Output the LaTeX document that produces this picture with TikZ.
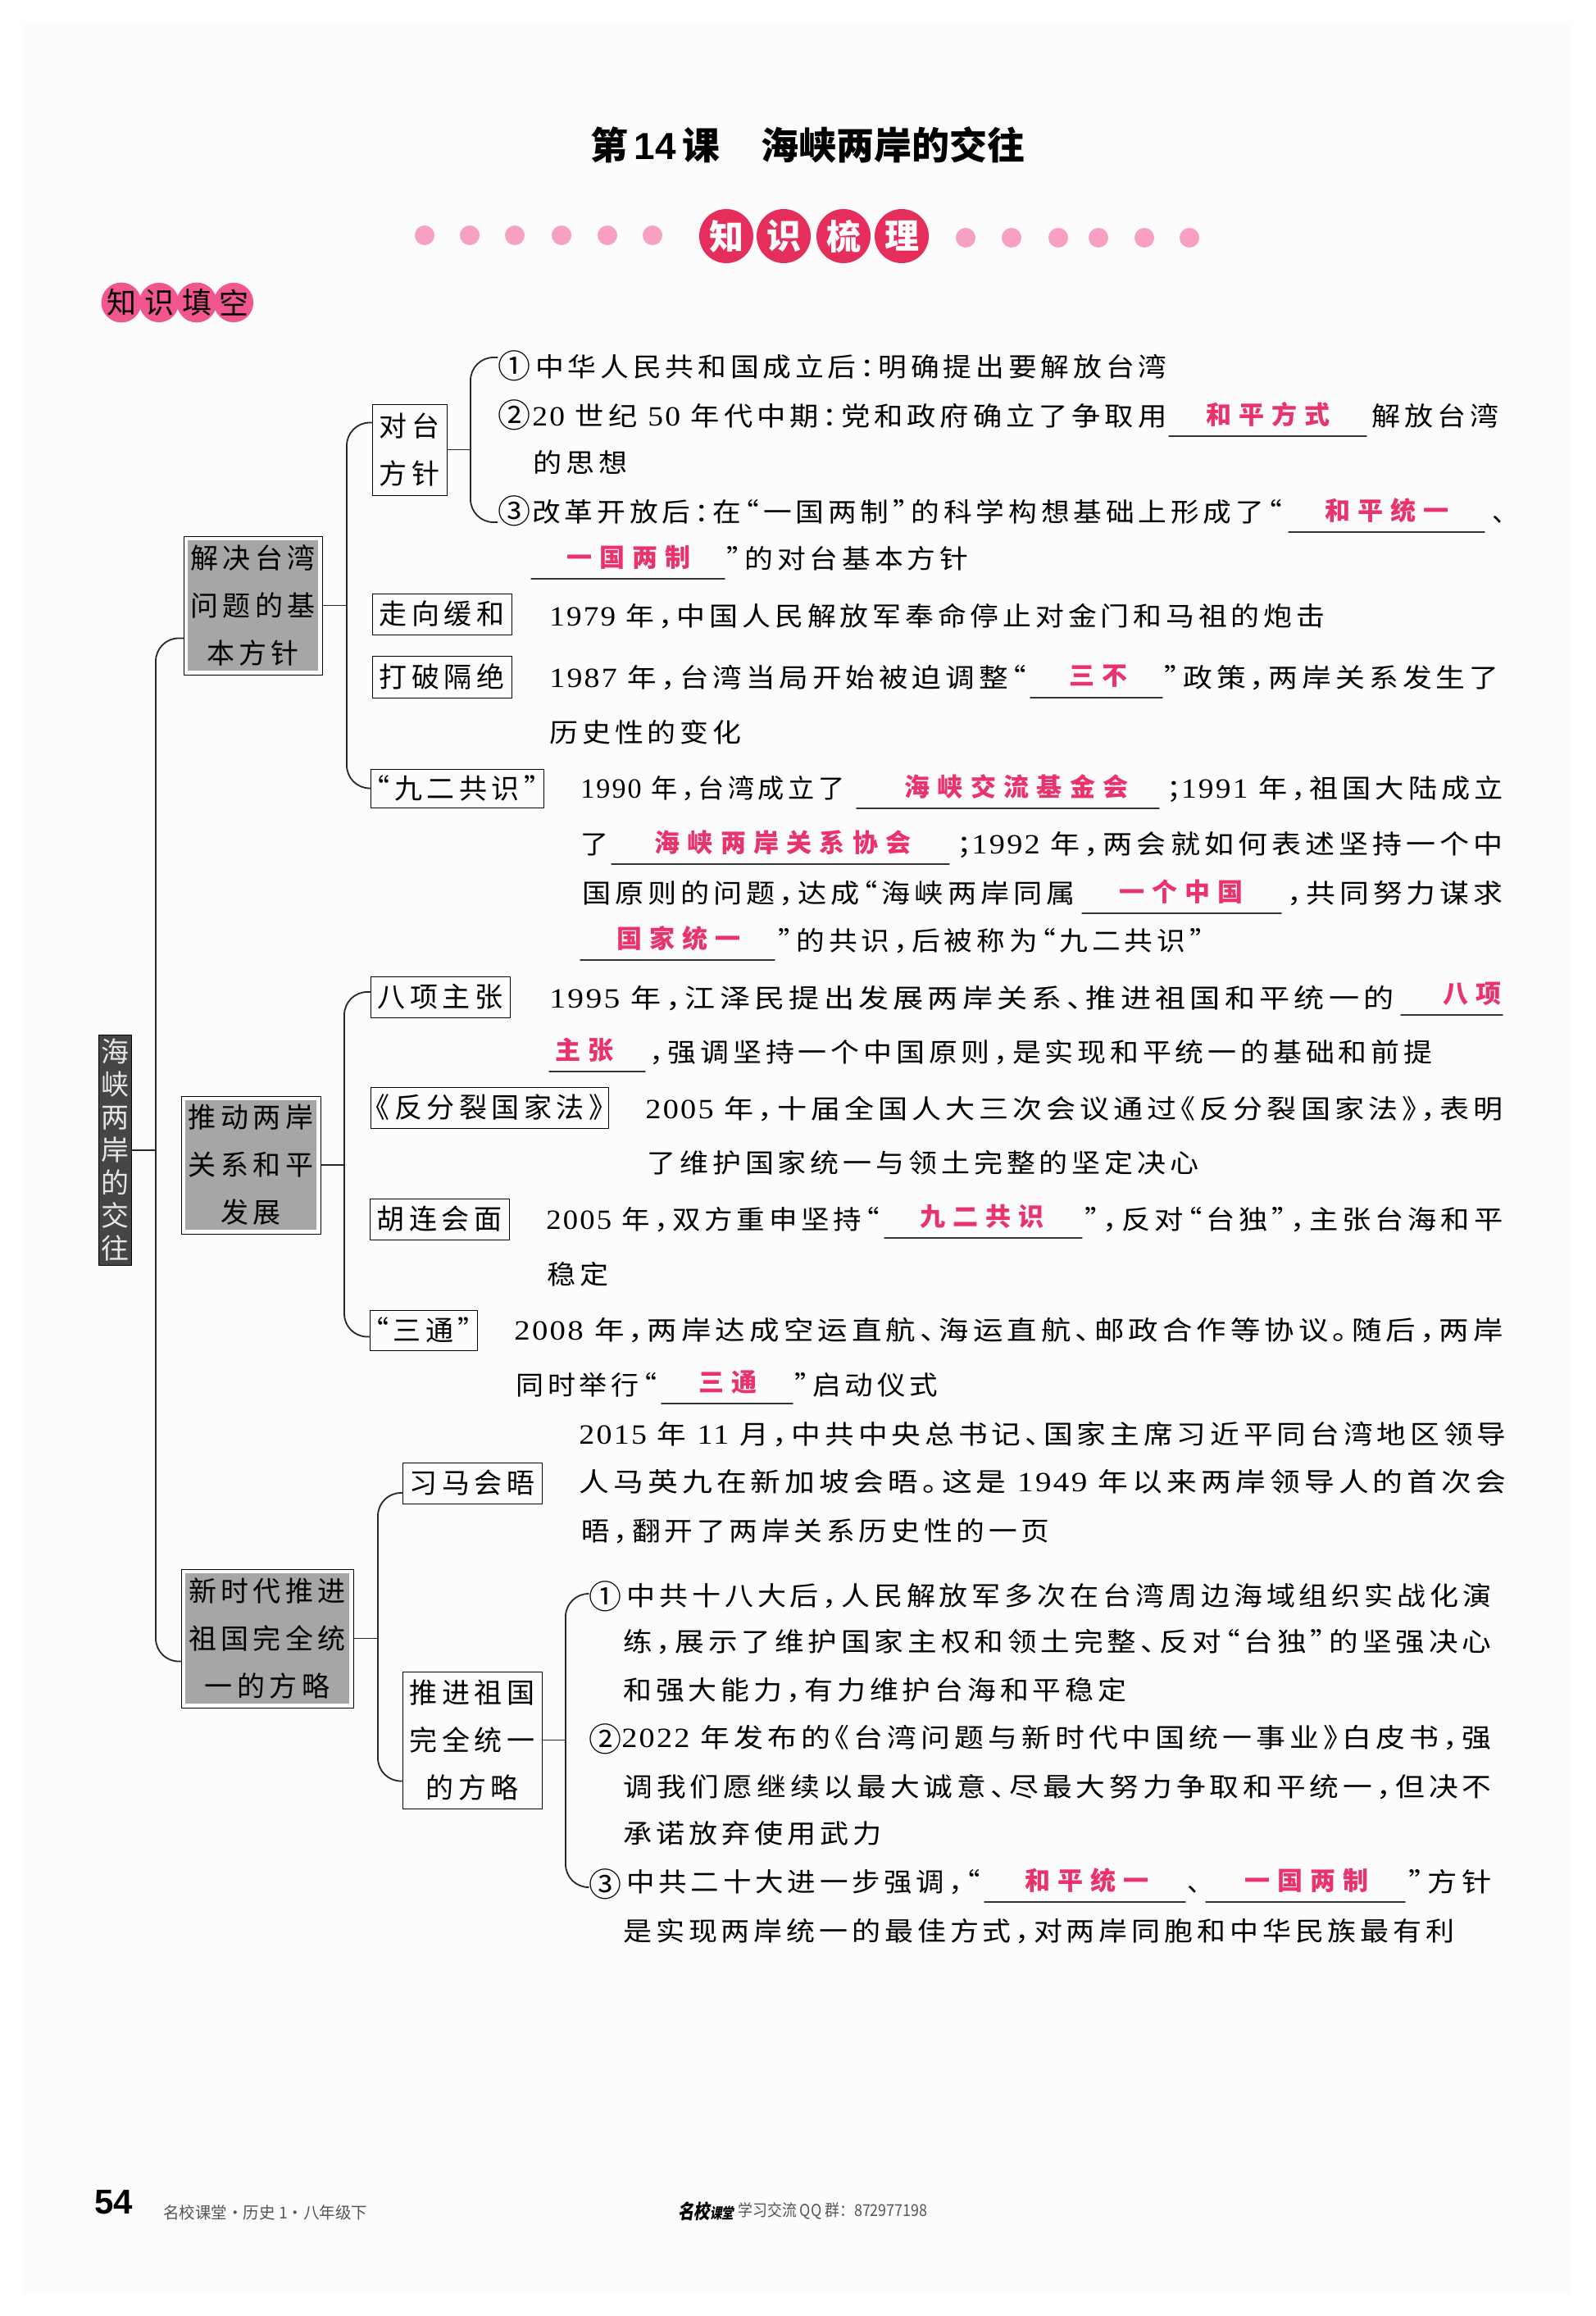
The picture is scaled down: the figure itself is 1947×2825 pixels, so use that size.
\documentclass[tikz,border=0pt]{standalone}
\usepackage{fontspec}
\setmainfont{Noto Sans CJK SC}
\newfontfamily\cjk[LetterSpace=14,RawFeature=+halt]{Noto Sans CJK SC}
\newfontfamily\tagcjk[LetterSpace=16,RawFeature=+halt]{Noto Sans CJK SC}
\newfontfamily\pinkcjk[LetterSpace=30]{Noto Sans CJK SC}
\newfontfamily\logocjk[FakeSlant=0.2]{Noto Sans CJK SC}
\newfontfamily\digitfont[LetterSpace=6]{Liberation Serif}
\newfontfamily\footfont{Liberation Sans}
\newcommand{\yr}[1]{{\digitfont\fontsize{17}{17}\selectfont #1}}
\newcommand{\seg}[5]{\node[bodytxt] (#1) at (#2,#4) {\resizebox{\dimexpr(#3pt-#2pt)/2\relax}{\height}{#5}};}
\newcommand{\blankfill}[6]{\draw[blankrule] (#2,#4+26) -- (#3,#4+26); \node[pinktxt] (#1) at (#5,#4) {#6};}
\definecolor{headred}{HTML}{E62E5C}
\definecolor{dotpink}{HTML}{F7A0C4}
\definecolor{subpink}{HTML}{F1568E}
\definecolor{inkpink}{HTML}{E8336D}
\definecolor{hubgray}{HTML}{A6A6A6}
\definecolor{rootgray}{HTML}{454545}
\definecolor{pagetint}{HTML}{FCFCFC}
\definecolor{footgray}{HTML}{555555}
\tikzset{
	bodytxt/.style={anchor=west, inner sep=0pt, text height=14.5pt, text depth=1.5pt, font=\fontsize{16}{16}\cjk},
	pinktxt/.style={inner sep=0pt, text=inkpink, font=\fontsize{15.5}{15.5}\pinkcjk\bfseries},
	blankrule/.style={line width=0.7pt, color=black!80},
	bus/.style={line width=0.9pt, color=black!85, rounded corners=14pt},
	tagbox/.style={draw, line width=0.45pt, inner sep=0pt, align=center, font=\fontsize{17}{29}\tagcjk},
	hubbox/.style={tagbox, path picture={\fill[hubgray] ([shift={(2.5pt,2.5pt)}]path picture bounding box.south west) rectangle ([shift={(-2.5pt,-2.5pt)}]path picture bounding box.north east);}},
	circnum/.style={inner sep=0pt, font=\fontsize{20}{20}\selectfont},
	pinkdot/.style={circle, fill=dotpink, inner sep=0pt, minimum size=12pt},
	headcirc/.style={circle, fill=headred, text=white, inner sep=0pt, minimum size=33pt, font=\fontsize{21}{21}\selectfont\bfseries},
	subcirc/.style={circle, fill=subpink, inner sep=0pt, minimum size=23pt, font=\fontsize{18}{18}\selectfont},
	titletxt/.style={inner sep=0pt, anchor=west, font=\fontsize{23}{23}\selectfont\bfseries}
}
\begin{document}
\begin{tikzpicture}[x=0.5pt, y=-0.5pt, line join=round, line cap=round]
	\useasboundingbox (0,0) rectangle (1947,2825);
	\fill[white] (0,0) rectangle (1947,2825);
	\fill[pagetint] (28,28) rectangle (1916,2798);

	\node[titletxt] (titlea) at (720,177) {\resizebox{79pt}{\height}{第\,{\footfont 14}\,课}};
	\node[titletxt] (titleb) at (928,177) {\resizebox{161pt}{\height}{海峡两岸的交往}};
	\foreach \x [count=\i] in {518,573,628,685,741,796} \node[pinkdot] (dl\i) at (\x,287) {};
	\foreach \x [count=\i] in {1178,1234,1291,1340,1396,1451} \node[pinkdot] (dr\i) at (\x,290) {};
	\node[headcirc] (hzhi) at (886,288) {知};
	\node[headcirc] (hshi) at (956,288) {识};
	\node[headcirc] (hshu) at (1029,288) {梳};
	\node[headcirc] (hli) at (1100,288) {理};
	\node[subcirc] (szhi) at (148,369) {知};
	\node[subcirc] (sshi) at (194,369) {识};
	\node[subcirc] (stian) at (240,369) {填};
	\node[subcirc] (skong) at (285,369) {空};

	\node[tagbox, minimum width=20pt, minimum height=140.5pt, fill=rootgray, text=white!90!black, font=\fontsize{17}{20}\selectfont] (root) at (140,1403) {海\\峡\\两\\岸\\的\\交\\往};
	\node[hubbox, minimum width=84.5pt, minimum height=84.5pt] (jiejue) at (308.5,738.5) {解决台湾\\问题的基\\本方针};
	\node[hubbox, minimum width=85pt, minimum height=84pt] (tuidong) at (306,1421) {推动两岸\\关系和平\\发展};
	\node[hubbox, minimum width=105pt, minimum height=84.5pt] (xinshi) at (326,1998.5) {新时代推进\\祖国完全统\\一的方略};

	\node[tagbox, minimum width=45.5pt, minimum height=55.5pt] (duitai) at (499.5,548.5) {对台\\方针};
	\node[tagbox, minimum width=85pt, minimum height=25pt] (zouxiang) at (539,749) {走向缓和};
	\node[tagbox, minimum width=85pt, minimum height=25.5pt] (dapo) at (539,825.5) {打破隔绝};
	\node[tagbox, minimum width=105.5pt, minimum height=23.5pt] (jiuer) at (557.5,961.5) {“九二共识”};
	\node[tagbox, minimum width=85pt, minimum height=25pt] (baxiang) at (537,1216) {八项主张};
	\node[tagbox, minimum width=145pt, minimum height=25pt] (fanfen) at (597,1351) {《反分裂国家法》};
	\node[tagbox, minimum width=85pt, minimum height=25pt] (hulian) at (536,1487) {胡连会面};
	\node[tagbox, minimum width=65.5pt, minimum height=24.5pt] (santong) at (516.5,1622.5) {“三通”};
	\node[tagbox, minimum width=85pt, minimum height=25pt] (xima) at (576,1809) {习马会晤};
	\node[tagbox, minimum width=85pt, minimum height=83.5pt] (tuijin) at (576,2122.5) {推进祖国\\完全统一\\的方略};

	\node[circnum] (ca1) at (627,446) {①};
	\node[circnum] (ca2) at (627,506) {②};
	\node[circnum] (ca3) at (627,623) {③};
	\node[circnum] (cb1) at (738,1947) {①};
	\node[circnum] (cb2) at (738,2121) {②};
	\node[circnum] (cb3) at (738,2298) {③};

	\coordinate (trmain) at (190,1403);
	\coordinate (trjie) at (423,738.5);
	\coordinate (trdui) at (574,548.5);
	\coordinate (trtui) at (420,1421);
	\coordinate (trxin) at (461,1998.5);
	\coordinate (trjin) at (690,2122.5);

	\draw[bus] (root.east) -- (trmain);
	\draw[bus] ([yshift=-20pt]jiejue.west) -| (trmain) |- ([yshift=-14pt]xinshi.west);
	\draw[bus] (jiejue.east) -- (trjie);
	\draw[bus] ([yshift=16.5pt]duitai.west) -| (trjie) |- (jiuer.west);
	\draw[bus] (duitai.east) -- (trdui);
	\draw[bus] ([yshift=5pt]ca1.west) -| (trdui) |- ([yshift=-7pt]ca3.west);
	\draw[bus] (tuidong.east) -- (trtui);
	\draw[bus] ([yshift=3pt]baxiang.west) -| (trtui) |- ([yshift=-4pt]santong.west);
	\draw[bus] (xinshi.east) -- (trxin);
	\draw[bus] ([yshift=-6pt]xima.west) -| (trxin) |- ([yshift=-25pt]tuijin.west);
	\draw[bus] (tuijin.east) -- (trjin);
	\draw[bus] ([yshift=1.5pt]cb1.west) -| (trjin) |- ([yshift=-2pt]cb3.west);

	\seg{a1}{653}{1423}{446}{中华人民共和国成立后：明确提出要解放台湾}
	\seg{a2}{649}{1423}{506}{\yr{20} 世纪 \yr{50} 年代中期：党和政府确立了争取用}
	\blankfill{fa2}{1426}{1667}{506}{1547}{和平方式}
	\seg{a2b}{1673}{1828}{506}{解放台湾}
	\seg{a2c}{650}{765}{563}{的思想}
	\seg{a3}{649}{1564}{623}{改革开放后：在“一国两制”的科学构想基础上形成了“}
	\blankfill{fa3}{1572}{1811}{623}{1692}{和平统一}
	\node[bodytxt] (a3b) at (1820,623) {、};
	\blankfill{fa4}{648}{884}{680}{767}{一国两制}
	\seg{a4}{886}{1181}{680}{”的对台基本方针}
	\seg{b1}{670}{1616}{750}{\yr{1979} 年，中国人民解放军奉命停止对金门和马祖的炮击}
	\seg{c1}{670}{1252}{825}{\yr{1987} 年，台湾当局开始被迫调整“}
	\blankfill{fc1}{1257}{1418}{825}{1340}{三不}
	\seg{c2}{1420}{1828}{825}{”政策，两岸关系发生了}
	\seg{c3}{670}{904}{892}{历史性的变化}
	\seg{d1}{708}{1030}{960}{\yr{1990} 年，台湾成立了}
	\blankfill{fd1}{1045}{1414}{960}{1240}{海峡交流基金会}
	\seg{d2}{1423}{1833}{960}{；\yr{1991} 年，祖国大陆成立}
	\seg{d3}{708}{742}{1028}{了}
	\blankfill{fd3}{746}{1158}{1028}{955}{海峡两岸关系协会}
	\seg{d4}{1167}{1833}{1028}{；\yr{1992} 年，两会就如何表述坚持一个中}
	\seg{d5}{710}{1311}{1088}{国原则的问题，达成“海峡两岸同属}
	\blankfill{fd5}{1320}{1563}{1088}{1441}{一个中国}
	\seg{d6}{1570}{1833}{1088}{，共同努力谋求}
	\blankfill{fd7}{708}{945}{1145}{828}{国家统一}
	\seg{d7}{949}{1468}{1146}{”的共识，后被称为“九二共识”}

	\seg{e1}{670}{1700}{1216}{\yr{1995} 年，江泽民提出发展两岸关系、推进祖国和平统一的}
	\blankfill{fe1}{1709}{1833}{1212}{1796}{八项}
	\blankfill{fe2}{670}{787}{1281}{713}{主张}
	\seg{e2}{792}{1747}{1282}{，强调坚持一个中国原则，是实现和平统一的基础和前提}
	\seg{g1}{787}{1833}{1351}{\yr{2005} 年，十届全国人大三次会议通过《反分裂国家法》，表明}
	\seg{g2}{789}{1462}{1417}{了维护国家统一与领土完整的坚定决心}
	\seg{h1}{666}{1073}{1486}{\yr{2005} 年，双方重申坚持“}
	\blankfill{fh1}{1079}{1320}{1484}{1198}{九二共识}
	\seg{h2}{1323}{1833}{1486}{”，反对“台独”，主张台海和平}
	\seg{h3}{667}{742}{1553}{稳定}
	\seg{k1}{627}{1833}{1621}{\yr{2008} 年，两岸达成空运直航、海运直航、邮政合作等协议。随后，两岸}
	\seg{k2}{629}{801}{1688}{同时举行“}
	\blankfill{fk2}{807}{967}{1686}{888}{三通}
	\seg{k3}{969}{1144}{1688}{”启动仪式}

	\seg{m1}{706}{1837}{1748}{\yr{2015} 年 \yr{11} 月，中共中央总书记、国家主席习近平同台湾地区领导}
	\seg{m2}{706}{1837}{1806}{人马英九在新加坡会晤。这是 \yr{1949} 年以来两岸领导人的首次会}
	\seg{m3}{709}{1280}{1866}{晤，翻开了两岸关系历史性的一页}
	\seg{n1}{764}{1819}{1945}{中共十八大后，人民解放军多次在台湾周边海域组织实战化演}
	\seg{n2}{760}{1819}{2001}{练，展示了维护国家主权和领土完整、反对“台独”的坚强决心}
	\seg{n3}{760}{1374}{2060}{和强大能力，有力维护台海和平稳定}
	\seg{n4}{758}{1819}{2118}{\yr{2022} 年发布的《台湾问题与新时代中国统一事业》白皮书，强}
	\seg{n5}{760}{1819}{2178}{调我们愿继续以最大诚意、尽最大努力争取和平统一，但决不}
	\seg{n6}{760}{1075}{2235}{承诺放弃使用武力}
	\seg{n7}{764}{1196}{2294}{中共二十大进一步强调，“}
	\blankfill{fn7}{1201}{1446}{2294}{1326}{和平统一}
	\node[bodytxt] (n7b) at (1448,2294) {、};
	\blankfill{fn8}{1471}{1714}{2294}{1594}{一国两制}
	\seg{n8}{1718}{1819}{2294}{”方针}
	\seg{n9}{760}{1774}{2354}{是实现两岸统一的最佳方式，对两岸同胞和中华民族最有利}

	\node[inner sep=0pt, anchor=west, font=\fontsize{21}{21}\footfont\bfseries] (pageno) at (115,2686) {54};
	\node[inner sep=0pt, anchor=west, text=footgray, font=\fontsize{10}{10}\selectfont] (foota) at (199,2699) {\resizebox{124.5pt}{\height}{名校课堂·历史 1·八年级下}};
	\node[inner sep=0pt, anchor=west, font=\fontsize{12}{12}\logocjk\bfseries] (footb) at (827,2697) {\resizebox{34pt}{\height}{名校{\fontsize{9}{9}\selectfont 课堂}}};
	\node[inner sep=0pt, anchor=west, text=footgray, font=\fontsize{10}{10}\selectfont] (footc) at (900,2697) {\resizebox{115.5pt}{\height}{学习交流 QQ 群：872977198}};
\end{tikzpicture}
\end{document}
